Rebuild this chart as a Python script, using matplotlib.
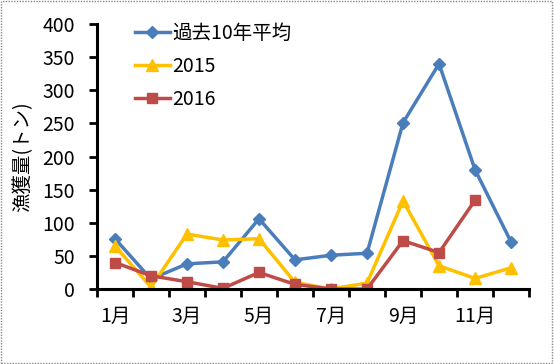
import matplotlib
matplotlib.use("Agg")
import matplotlib.pyplot as plt
import numpy as np
from matplotlib.patches import Rectangle

plt.rcParams['font.family'] = ['Noto Sans CJK JP', 'DejaVu Sans']

months = [1, 2, 3, 4, 5, 6, 7, 8, 9, 10, 11, 12]
month_labels = ["1月", "", "3月", "", "5月", "", "7月", "", "9月", "", "11月", ""]
avg10 = [76, 15, 38, 41, 106, 44, 51, 54, 251, 340, 180, 71]
y2015 = [65, 3, 83, 74, 76, 10, 0, 9, 133, 35, 16, 32]
y2016 = [40, 20, 11, 1, 25, 7, 0, 0, 73, 55, 134, np.nan]

fig = plt.figure(figsize=(5.54, 3.64), dpi=100)
ax = fig.add_axes([0.175, 0.206, 0.78, 0.728])

ax.plot(months, avg10, color='#4A7EBB', lw=2.5, marker='D', ms=6, label='過去10年平均')
ax.plot(months, y2015, color='#FFC000', lw=2.5, marker='^', ms=8, label='2015')
ax.plot(months, y2016, color='#BE4B48', lw=2.5, marker='s', ms=7, label='2016')

ax.set_xlim(0.5, 12.5)
ax.set_ylim(0, 400)
ax.set_yticks(range(0, 401, 50))
ax.set_xticks(np.arange(0.5, 13, 1))
ax.set_xticklabels([])
ax.set_xticks(months, minor=True)
ax.set_xticklabels(month_labels, minor=True)
ax.tick_params(axis='x', which='minor', length=0, pad=12, labelsize=14)
ax.tick_params(axis='x', which='major', length=6, width=2, direction='out')
ax.tick_params(axis='y', length=6, width=2, direction='out', labelsize=14, pad=10)

for s in ['top', 'right']:
    ax.spines[s].set_visible(False)
for s in ['left', 'bottom']:
    ax.spines[s].set_linewidth(2.2)

ax.set_ylabel('漁獲量(トン)', fontsize=14, labelpad=6)

ax.legend(loc='upper left', bbox_to_anchor=(0.07, 1.035), frameon=False, fontsize=14,
          handlelength=1.8, handletextpad=0.1, labelspacing=0.62, borderaxespad=0)

fig.patches.append(Rectangle((0.002, 0.003), 0.995, 0.994, transform=fig.transFigure,
                             fill=False, edgecolor='#888888', lw=1, linestyle=(0, (1, 1))))

fig.savefig('out.png', dpi=100)
